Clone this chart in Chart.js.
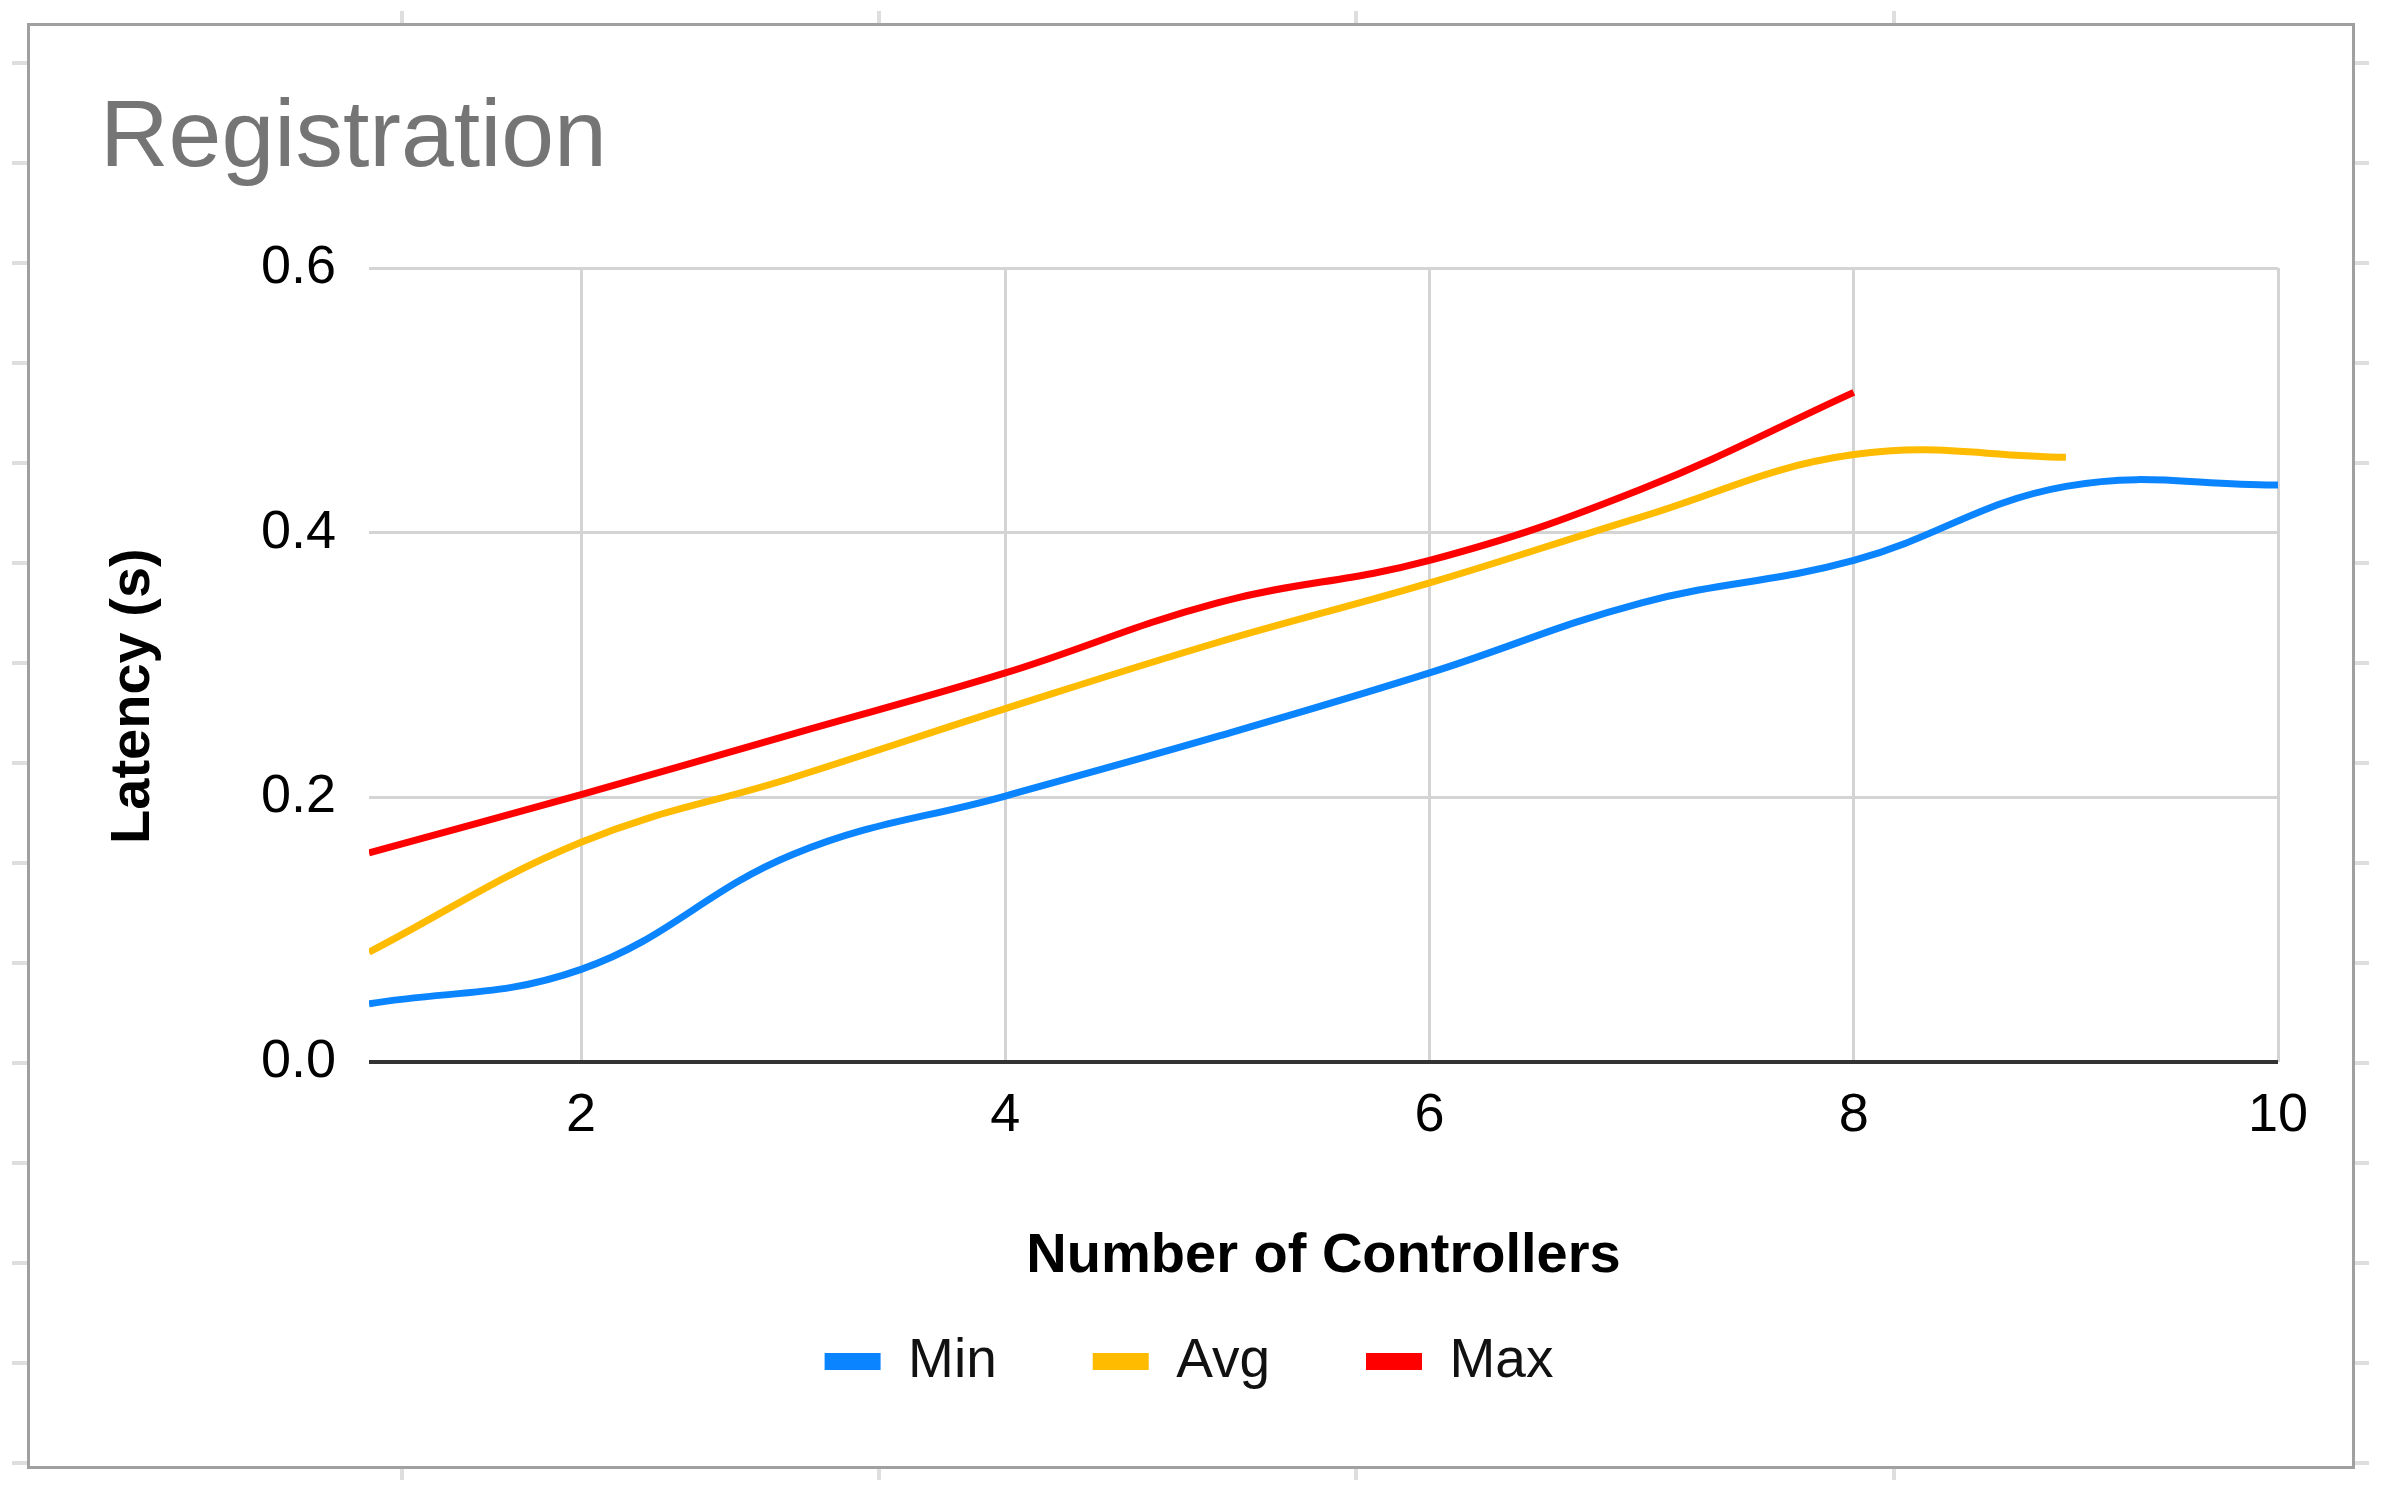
<!DOCTYPE html>
<html>
<head>
<meta charset="utf-8">
<title>Registration</title>
<script src="https://cdn.jsdelivr.net/npm/chart.js@4.4.1/dist/chart.umd.min.js"></script>
<style>
  html, body { margin: 0; padding: 0; background: #fff; }
  .chart-box { position: relative; width: 2390px; height: 1492px; }
</style>
</head>
<body>
<div class="chart-box"><canvas id="myChart"></canvas></div>
<script>
const controllers = [1, 2, 3, 4, 5, 6, 7, 8, 9, 10];
const minLatency = [0.044, 0.07, 0.157, 0.201, 0.246, 0.294, 0.347, 0.379, 0.435, 0.436];
const avgLatency = [0.083, 0.166, 0.215, 0.267, 0.317, 0.362, 0.412, 0.459, 0.457];
const maxLatency = [0.158, 0.202, 0.248, 0.294, 0.347, 0.379, 0.433, 0.506];
const xTicks = [2, 4, 6, 8, 10];
const yTicks = [0, 0.2, 0.4, 0.6];

const ctx = document.querySelector('#myChart').getContext('2d');

Chart.defaults.font.family = '"Liberation Sans", Arial, sans-serif';

const toPoints = values => values.map((v, i) => ({ x: controllers[i], y: v }));

// spreadsheet frame around the chart, with the cell lines peeking out
const sheetFrame = {
  id: 'sheetFrame',
  beforeDraw(chart) {
    const c = chart.ctx;
    c.save();
    c.strokeStyle = '#dedede';
    c.lineWidth = 4;
    c.beginPath();
    [402, 879, 1356, 1894].forEach(x => {
      c.moveTo(x, 11);
      c.lineTo(x, 24);
      c.moveTo(x, 1468);
      c.lineTo(x, 1480);
    });
    for (let y = 63; y < 1492; y += 100) {
      c.moveTo(12, y);
      c.lineTo(28, y);
      c.moveTo(2354, y);
      c.lineTo(2369, y);
    }
    c.stroke();
    c.strokeStyle = '#a0a0a0';
    c.lineWidth = 3;
    c.strokeRect(28.5, 24.5, 2325, 1443);
    c.restore();
  },
};

const chart = new Chart(ctx, {
  type: 'line',
  data: {
    datasets: [
      {
        label: 'Min',
        data: toPoints(minLatency),
        borderColor: '#0a84ff',
        backgroundColor: '#0a84ff',
      },
      {
        label: 'Avg',
        data: toPoints(avgLatency),
        borderColor: '#ffbb00',
        backgroundColor: '#ffbb00',
      },
      {
        label: 'Max',
        data: toPoints(maxLatency),
        borderColor: '#ff0000',
        backgroundColor: '#ff0000',
      },
    ],
  },
  options: {
    responsive: true,
    maintainAspectRatio: false,
    animation: false,
    layout: { padding: { top: 30, left: 100, right: 112, bottom: 93 } },
    elements: {
      line: { borderWidth: 7, tension: 0.4, fill: false },
      point: { radius: 0 },
    },
    plugins: {
      title: {
        display: true,
        text: 'Registration',
        align: 'start',
        color: '#757575',
        font: { size: 95, weight: 'normal' },
        padding: { top: 53, bottom: 71 },
      },
      legend: {
        position: 'bottom',
        labels: {
          boxWidth: 56,
          boxHeight: 17,
          padding: 96,
          color: '#111',
          font: { size: 55 },
          generateLabels: c =>
            Chart.defaults.plugins.legend.labels
              .generateLabels(c)
              .map(item => ({ ...item, lineWidth: 0 })),
        },
      },
      tooltip: { enabled: false },
    },
    scales: {
      x: {
        type: 'linear',
        min: 1,
        max: 10,
        afterBuildTicks: scale => {
          scale.ticks = xTicks.map(v => ({ value: v }));
        },
        afterFit: scale => {
          scale.height = 176;
          scale.paddingLeft = 0;
          scale.paddingRight = 0;
        },
        border: { display: false },
        grid: { color: '#d4d4d4', lineWidth: 3, drawTicks: false },
        ticks: { color: '#000', font: { size: 54 }, padding: 22 },
        title: {
          display: true,
          text: 'Number of Controllers',
          color: '#000',
          font: { size: 56, weight: 'bold' },
          padding: { top: 0, bottom: -52 },
        },
      },
      y: {
        min: 0,
        max: 0.6,
        afterBuildTicks: scale => {
          scale.ticks = yTicks.map(v => ({ value: v }));
        },
        afterFit: scale => {
          scale.width = 269;
        },
        border: { display: false },
        grid: {
          color: c => (c.tick.value === 0 ? '#333' : '#d4d4d4'),
          lineWidth: c => (c.tick.value === 0 ? 4 : 3),
          drawTicks: false,
        },
        ticks: {
          color: '#000',
          font: { size: 54 },
          padding: 33,
          callback: v => v.toFixed(1),
        },
        title: {
          display: true,
          // trailing spaces nudge the centred title a little lower, as in the original
          text: 'Latency (s)    ',
          color: '#000',
          font: { size: 56, weight: 'bold' },
          padding: 0,
        },
      },
    },
  },
  plugins: [sheetFrame],
});
</script>
</body>
</html>
